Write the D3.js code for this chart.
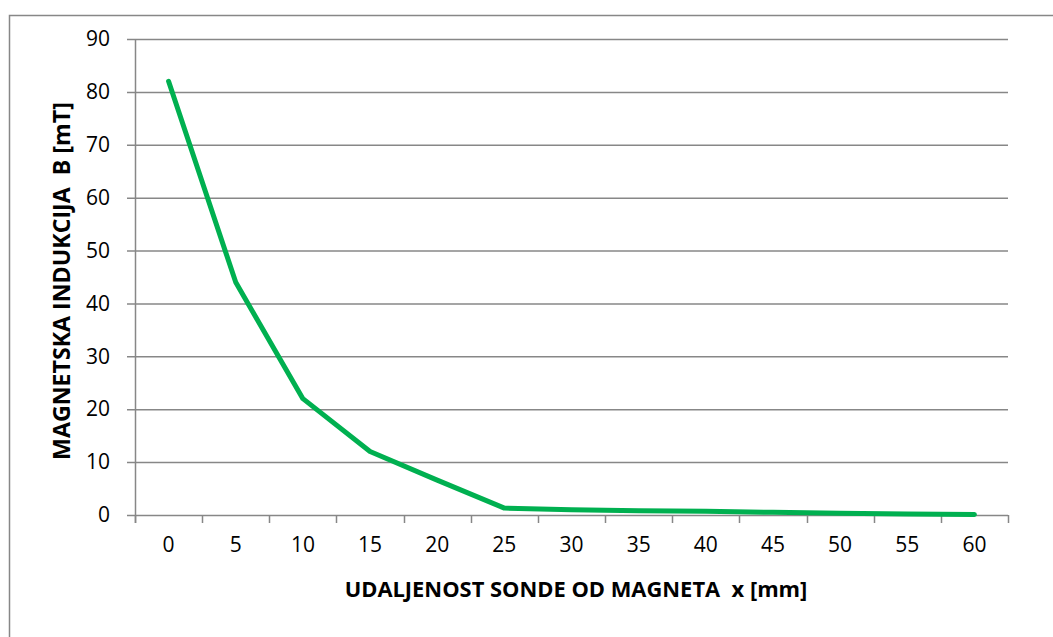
<!DOCTYPE html>
<html>
<head>
<meta charset="utf-8">
<script src="https://cdn.jsdelivr.net/npm/d3@7"></script>
<style>
  html, body { margin: 0; padding: 0; background: #fff; }
  svg { display: block; font-family: "Open Sans", "DejaVu Sans", sans-serif; }
</style>
</head>
<body>
<script>
// distance from magnet [mm] and induction [mT]
const distances = [0, 5, 10, 15, 20, 25, 30, 35, 40, 45, 50, 55, 60]
const induction = [82, 44, 22, 12, 6.6, 1.3, 1.0, 0.8, 0.7, 0.5, 0.35, 0.2, 0.1]
const yTicks = [0, 10, 20, 30, 40, 50, 60, 70, 80, 90]

const xTitle = "UDALJENOST SONDE OD MAGNETA  x [mm]"
const yTitle = "MAGNETSKA INDUKCIJA  B [mT]"

const width = 1053
const height = 637
const marginLeft = 135
const marginRight = 45
const marginTop = 39
const marginBottom = 122
const gridColor = "#878787"

const svg = d3.select("body").append("svg")
    .attr("width", width)
    .attr("height", height)

// chart border (runs off the right and bottom edges)
svg.append("rect")
    .attr("x", 9.5).attr("y", 15.5)
    .attr("width", width + 20).attr("height", height + 20)
    .attr("fill", "none")
    .attr("stroke", gridColor)
    .attr("stroke-width", 1.5)

const x = d3.scaleBand()
    .domain(distances)
    .range([marginLeft, width - marginRight])

const y = d3.scaleLinear()
    .domain([0, 90])
    .range([height - marginBottom, marginTop])

// horizontal grid + y ticks
const yAxis = svg.append("g")
    .attr("transform", `translate(${marginLeft},0)`)
    .call(d3.axisLeft(y).tickValues(yTicks).tickSize(8).tickPadding(17))
    .attr("font-family", null)
    .attr("font-size", null)
yAxis.select(".domain").attr("stroke", gridColor).attr("stroke-width", 1.5)
    .attr("d", `M0.5,${y(90)}V${y(0) + 8}`)
yAxis.selectAll(".tick line").attr("stroke", gridColor).attr("stroke-width", 1.5)
    .attr("x1", width - marginRight - marginLeft)
yAxis.selectAll(".tick text")
    .attr("fill", "#000")
    .style("font-size", "21px")

// x axis
const xAxis = svg.append("g")
    .attr("transform", `translate(0,${y(0)})`)
    .call(d3.axisBottom(x).tickSize(0).tickPadding(22))
    .attr("font-family", null)
    .attr("font-size", null)
xAxis.select(".domain").remove()
xAxis.selectAll(".tick line").remove()
xAxis.selectAll(".tick text")
    .attr("fill", "#000")
    .style("font-size", "21px")

// tick marks sit between categories
const boundaries = distances.map(d => x(d)).concat([x.range()[1]])
xAxis.selectAll(".bound")
    .data(boundaries)
    .join("line")
    .attr("class", "bound")
    .attr("x1", d => Math.round(d) + 0.5).attr("x2", d => Math.round(d) + 0.5)
    .attr("y1", 0).attr("y2", 8)
    .attr("stroke", gridColor).attr("stroke-width", 1.5)

// data line
const line = d3.line()
    .x((d, i) => x(distances[i]) + x.bandwidth() / 2)
    .y(d => y(d))

svg.append("path")
    .datum(induction)
    .attr("fill", "none")
    .attr("stroke", "#00B050")
    .attr("stroke-width", 5)
    .attr("stroke-linejoin", "round")
    .attr("stroke-linecap", "round")
    .attr("d", line)

// axis titles, sized to the reference span
function fitText(sel, target) {
    const len = sel.node().getComputedTextLength()
    const size = parseFloat(sel.style("font-size"))
    sel.style("font-size", (size * target / len) + "px")
}

const xt = svg.append("text")
    .attr("x", 576)
    .attr("y", 597)
    .attr("text-anchor", "middle")
    .attr("font-weight", "bold")
    .style("white-space", "pre")
    .style("font-size", "22px")
    .text(xTitle)
fitText(xt, 463)

const yt = svg.append("text")
    .attr("transform", "translate(70,281) rotate(-90)")
    .attr("text-anchor", "middle")
    .attr("font-weight", "bold")
    .style("white-space", "pre")
    .style("font-size", "22px")
    .text(yTitle)
fitText(yt, 358)
</script>
</body>
</html>
